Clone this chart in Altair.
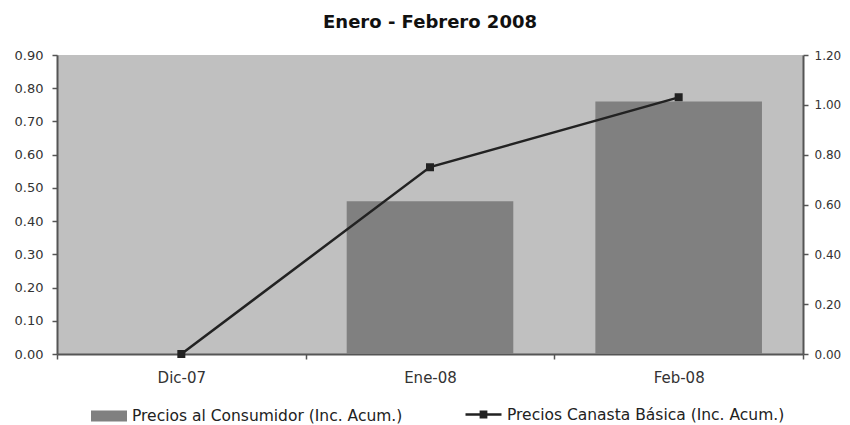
import altair as alt
import pandas as pd

months = ["Dic-07", "Ene-08", "Feb-08"]
consumidor = [0.0, 0.46, 0.76]
canasta = [0.00, 0.75, 1.03]
serie_barra = "Precios al Consumidor (Inc. Acum.)"
serie_linea = "Precios Canasta Básica (Inc. Acum.)"
left_ticks = [0.0, 0.1, 0.2, 0.3, 0.4, 0.5, 0.6, 0.7, 0.8, 0.9]
right_ticks = [0.0, 0.2, 0.4, 0.6, 0.8, 1.0, 1.2]

df = pd.DataFrame({
    "mes": months,
    "consumidor": consumidor,
    "canasta": canasta,
    "s1": [serie_barra] * 3,
    "s2": [serie_linea] * 3,
})

FONT = "DejaVu Sans"
AX = dict(domainColor="#555", domainWidth=2, tickColor="#555", tickWidth=1.5,
          tickSize=5, labelColor="#333", labelFont=FONT)

x_enc = alt.X(
    "mes:N", sort=months, title=None,
    scale=alt.Scale(paddingInner=0, paddingOuter=0),
    axis=alt.Axis(labelAngle=0, tickBand="extent", labelPadding=11, labelFontSize=15, **AX),
)

bars = alt.Chart(df).mark_bar(width=alt.RelativeBandSize(0.67)).encode(
    x=x_enc,
    y=alt.Y("consumidor:Q", title=None,
            scale=alt.Scale(domain=[0, 0.9], nice=False),
            axis=alt.Axis(values=left_ticks, format=".2f", grid=False, orient="left",
                          labelPadding=9, labelFontSize=13, **AX)),
    color=alt.Color("s1:N", title=None,
                    scale=alt.Scale(domain=[serie_barra], range=["#808080"]),
                    legend=alt.Legend(orient="none", legendX=40, legendY=349,
                                      symbolType="M-1.5,-0.45H1.5V0.45H-1.5Z", symbolSize=576,
                                      symbolStrokeWidth=0, symbolOpacity=1, labelOffset=11,
                                      labelFontSize=15.5, labelFont=FONT, labelColor="#222",
                                      labelLimit=400)),
)

line = alt.Chart(df).mark_line(
    strokeWidth=2.5,
    point=alt.OverlayMarkDef(shape="square", size=36, filled=True, color="#222"),
).encode(
    x=alt.X("mes:N", sort=months),
    y=alt.Y("canasta:Q", title=None,
            scale=alt.Scale(domain=[0, 1.2], nice=False),
            axis=alt.Axis(values=right_ticks, format=".2f", grid=False, orient="right",
                          labelPadding=6, labelFontSize=12, **AX)),
    stroke=alt.Stroke("s2:N", title=None,
                      scale=alt.Scale(domain=[serie_linea], range=["#222222"]),
                      legend=alt.Legend(orient="none", legendX=413, legendY=346,
                                        symbolType="M-1.5,0H1.5M-0.22,-0.22H0.22V0.22H-0.22Z",
                                        symbolSize=576, symbolStrokeWidth=2.5,
                                        symbolFillColor="#222", symbolStrokeColor="#222",
                                        labelOffset=10, labelFontSize=15.5, labelFont=FONT,
                                        labelColor="#222", labelLimit=400)),
)

chart = alt.layer(bars, line).resolve_scale(y="independent", color="independent").properties(
    width=746, height=299,
    autosize=alt.AutoSizeParams(type="none"),
    padding={"left": 49, "top": 47, "right": 39, "bottom": 70},
    background="white",
    title=alt.TitleParams("Enero - Febrero 2008", font=FONT, fontSize=18, fontWeight="bold",
                          color="#111", anchor="middle", offset=17),
).configure_view(fill="#c0c0c0", strokeWidth=0)

chart.save("out.html", embed_options={"renderer": "svg", "actions": False})
